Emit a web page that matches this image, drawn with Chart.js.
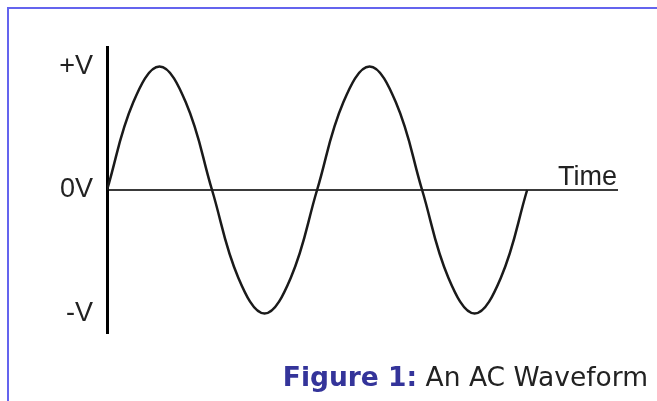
<!DOCTYPE html>
<html>
<head>
<meta charset="utf-8">
<script src="https://cdn.jsdelivr.net/npm/chart.js@4/dist/chart.umd.min.js"></script>
<style>
  html, body { margin: 0; padding: 0; background: #fff; }
  body { width: 657px; height: 401px; position: relative; overflow: hidden; }
  #frame { position: absolute; left: 7px; top: 7px; width: 660px; height: 400px;
           border-top: 2px solid #6464ee; border-left: 2px solid #6464ee; }
  #wrap { position: absolute; left: 0; top: 0; width: 657px; height: 401px; }
  #caption { position: absolute; right: 9px; top: 361px; font-family: "DejaVu Sans", Verdana, sans-serif;
             font-size: 26.5px; color: #222; white-space: nowrap; line-height: 32px; }
  #caption b { color: #34349a; }
</style>
</head>
<body>
<div id="frame"></div>
<div id="wrap"><canvas id="c" width="657" height="401"></canvas></div>
<div id="caption"><b>Figure 1:</b> An AC Waveform</div>
<script>
// Time in quarter periods, voltage in units of peak V
const timeValues = [0, 0.5, 1, 1.5, 2, 2.5, 3, 3.5, 4, 4.5, 5, 5.5, 6, 6.5, 7, 7.5, 8];
const voltageValues = [0, 0.71, 1, 0.71, 0, -0.71, -1, -0.71, 0, 0.71, 1, 0.71, 0, -0.71, -1, -0.71, 0];
const tickValues = [-1, 0, 1];
const tickLabels = ['-V', '0V', '+V'];
const axisTitle = 'Time';

const points = timeValues.map((t, i) => ({ x: t, y: voltageValues[i] }));

const timeLabelPlugin = {
  id: 'timeLabel',
  afterDraw(chart) {
    const { ctx, chartArea, scales } = chart;
    const y0 = scales.y.getPixelForValue(0);
    ctx.save();
    ctx.font = '27px "Liberation Sans", Arial, sans-serif';
    ctx.fillStyle = '#222';
    ctx.textAlign = 'right';
    ctx.textBaseline = 'alphabetic';
    ctx.fillText(axisTitle, chartArea.right - 1, y0 - 5);
    ctx.restore();
  }
};

new Chart(document.getElementById('c'), {
  type: 'line',
  data: {
    datasets: [{
      data: points,
      borderColor: '#1a1a1a',
      borderWidth: 2.5,
      pointRadius: 0,
      tension: 0.4,
      fill: false
    }]
  },
  options: {
    responsive: false,
    animation: false,
    layout: { padding: { left: 0, right: 39, top: 47, bottom: 67 } },
    plugins: { legend: { display: false }, tooltip: { enabled: false } },
    scales: {
      x: {
        type: 'linear',
        min: 0,
        max: 9.73,
        display: false
      },
      y: {
        type: 'linear',
        min: -1.166,
        max: 1.158,
        afterFit(scale) { scale.width = 107; },
        afterBuildTicks(scale) { scale.ticks = tickValues.map(v => ({ value: v })); },
        border: { display: true, color: '#000', width: 3 },
        grid: {
          drawTicks: false,
          color: (c) => (c.tick && c.tick.value === 0) ? '#3a3a3a' : 'rgba(0,0,0,0)',
          lineWidth: (c) => (c.tick && c.tick.value === 0) ? 2 : 0
        },
        ticks: {
          padding: 14,
          color: '#222',
          font: { family: '"Liberation Sans", Arial, sans-serif', size: 27 },
          callback: (v) => tickLabels[tickValues.indexOf(v)]
        }
      }
    }
  },
  plugins: [timeLabelPlugin]
});
</script>
</body>
</html>
